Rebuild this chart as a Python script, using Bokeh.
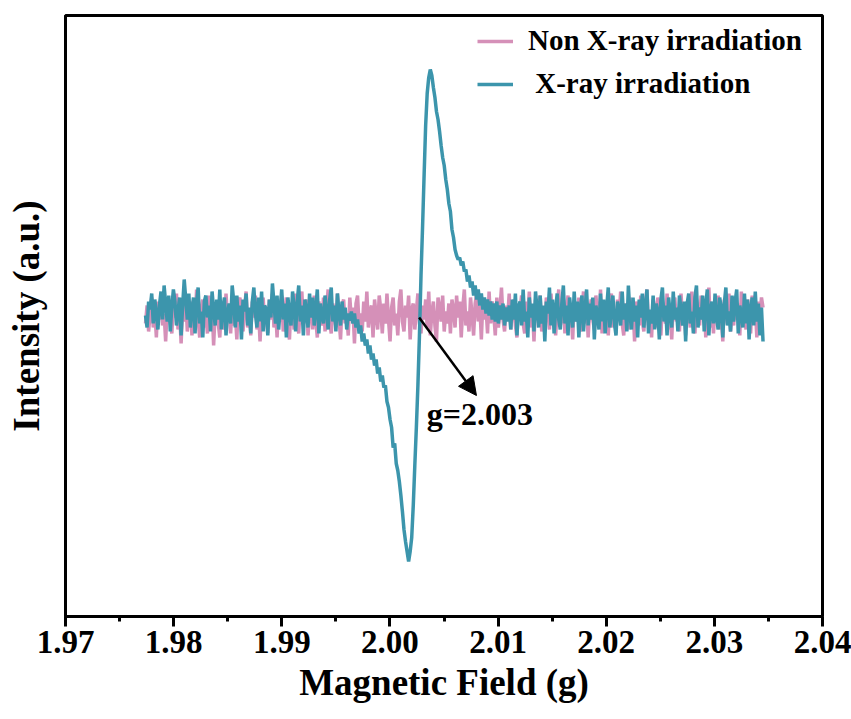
import numpy as np
from bokeh.plotting import figure
from bokeh.models import (Range1d, FixedTicker, Arrow, NormalHead, Legend,
                          LegendItem, Label)
from bokeh.embed import file_html
from bokeh.resources import INLINE

# ---------------- data ----------------
field_start = 1.9774
field_end = 2.0345

x_ticks = [1.97, 1.98, 1.99, 2.00, 2.01, 2.02, 2.03, 2.04]
x_tick_labels = ["1.97", "1.98", "1.99", "2.00", "2.01", "2.02", "2.03", "2.04"]
x_minor_ticks = [1.975, 1.985, 1.995, 2.005, 2.015, 2.025, 2.035]

# Non X-ray irradiation (a.u.), 400 points
non_xray = [
    -8, 10, -16, 4, 18, -12, 6, -22, 14, -4, 20, -10, 2, -26, 8, 16, -6, -18, 12, -2,
    22, -14, 4, -28, 10, -6, 18, -16, 0, 14, -20, 6, -10, 26, -4, -22, 8, 16, -12, 2,
    -18, 20, -6, 10, -30, 4, 14, -8, -22, 12, 0, -14, 22, -4, 8, -18, 16, -10, 2, -24,
    12, 18, -6, -16, 8, 24, -12, 4, -20, 14, -2, 20, -14, 6, -26, 10, 18, -8, 2, -18,
    16, -4, 22, -12, 8, -22, 14, -6, 20, -16, 4, 18, -10, -24, 12, 6, -14, 22, -2, -18,
    10, 24, -8, 0, 16, -20, 6, 12, -14, 20, -4, -22, 14, 2, -10, 18, -16, 8, 26, -6,
    -18, 12, 4, -12, 22, -2, -24, 10, 16, -8, 0, -20, 18, -4, 8, -28, 12, 20, -10, 2,
    -16, 14, -6, 24, -12, 4, 10, -22, 16, 0, -14, 20, 6, -18, 12, -8, 22, -4, -26, 8,
    18, -10, 2, -20, 14, 26, -6, -16, 10, -2, 20, -24, 6, 12, -14, 4, 22, -8, -18, 10,
    -4, 16, -12, 24, -20, 2, 14, -10, -26, 18, 8, -6, 20, -16, 4, -8, 12, -18, 16, 6,
    -12, 20, -2, 14, -22, 8, 26, -10, 4, -16, 18, 0, -20, 12, 22, -6, 10, -24, 16, -4,
    8, -18, 24, -8, 14, 2, -20, 18, -12, 6, 28, -4, -16, 10, -2, 22, -14, 4, 16, -10,
    -22, 12, 6, 20, -8, -18, 14, 0, 24, -12, 8, -26, 16, -4, 10, 20, -16, 2, -10, 18,
    4, -14, 22, -6, 12, -20, 8, 26, -10, -2, 16, -18, 6, 20, -12, 2, -24, 14, 10, -6,
    18, -16, 4, 24, -8, 12, -22, 6, 16, -4, -14, 20, 2, -10, 26, -18, 8, -6, 14, -20,
    10, 22, -12, 4, -18, 16, -2, 24, -8, -20, 12, 6, -14, 18, -4, 10, -26, 14, 2, -10,
    20, -6, -16, 12, 26, -10, 4, -22, 16, 8, -12, 18, -2, -20, 14, 6, -8, 22, -14, 0,
    -24, 12, 18, -6, 8, -16, 22, -2, 10, -20, 14, 4, -12, 24, -8, -18, 16, 2, -10, 20,
    -4, 14, -22, 6, 28, -12, 8, -18, 12, -6, 20, -14, 2, -26, 16, 10, -8, 22, -16, 4,
    -10, 18, -4, 12, -20, 24, -8, 6, -14, 16, 2, -18, 20, -6, 10, -22, 14, -2, 18, 8,
]

# X-ray irradiation (a.u.), 400 points
xray = [
    # baseline before the signal
    0, -12, 14, 6, 22, -8, 16, 2, -14, 10, 24, -4,
    30, 12, -6, 20, -16, 8, 26, 14, -10, 4, 18, -20,
    10, 36, 16, -4, 22, -12, 6, 18, -18, 12, 28, -8,
    4, -22, 14, 20, -2, 10, -16, 24, 6, -10, 16, -4,
    26, -14, 8, 18, -20, 2, 12, -8, 30, 14, -12, 20,
    -6, 10, -24, 16, 4, 22, -10, 8, -18, 14, 28, 2,
    -12, 18, -6, 24, -16, 10, 6, -20, 16, -2, 32, 12,
    -8, 20, -14, 6, 26, -4, 12, -22, 18, 2, -10, 24,
    8, -16, 14, 30, -6, 10, -20, 16, 4, -12, 22, -2,
    18, -10, 6, 26, -18, 12, 0, -8, 20, 4, -14, 16,
    28, -6, 10, -16, 22, 2, -10, 14, -4, 8, -14, 2,
    # signal
    -5, 4, -8, 2, -12, -4, -18, -10, -26, -18, -30, -24,
    -38, -30, -44, -38, -50, -44, -58, -52, -66, -60, -72, -70,
    -86, -92, -104, -112, -132, -128, -148, -155, -166, -180, -196, -214,
    -226, -236, -246, -236, -222, -190, -150, -112, -70, -20, 40, 88,
    140, 190, 222, 238, 246, 240, 228, 218, 204, 196, 184, 170,
    158, 150, 136, 126, 112, 104, 86, 78, 66, 60, 56, 58,
    50, 54, 44, 46, 34, 40, 28, 34, 20, 30, 16, 26,
    10, 22, 6, 18, 2, 16, 0, 14, -4, 12, -6, 14,
    -8, 10, -4, 12, -10, 8, -6, 10,
    # baseline after the signal
    -14, 16, -4, 22, -20, 8, 14, -10, 26, -6, 4, -22,
    18, -2, 12, -16, 24, 6, -12, 20, -8, 10, -26, 14,
    2, 28, -10, 16, -18, 6, 22, -4, -14, 12, 30, -8,
    10, -20, 18, 4, -12, 24, -6, 14, -22, 8, 20, -16,
    6, 26, -10, 12, -4, 18, -24, 10, 2, -14, 22, -6,
    16, -18, 8, 28, -12, 4, 20, -8, -20, 14, 6, -10,
    24, -4, 12, -16, 30, 2, -14, 18, -6, 10, -22, 16,
    -2, 22, -12, 8, 26, -18, 6, -8, 20, -14, 12, 4,
    -24, 16, 28, -6, 10, -20, 18, 2, -12, 24, -4, 8,
    -16, 20, 6, -10, 14, -26, 12, 22, -8, 4, -18, 18,
    30, -12, 8, -4, 20, -16, 10, 26, -20, 6, 14, -8,
    22, -2, -14, 18, 8, -22, 12, 28, -10, 4, -16, 20,
    -6, 14, 26, -18, 10, 2, -12, 22, -8, 16, -24, 6,
    18, -10, 24, -6, 12, -20, 8, -26,
]

g_value_label = "g=2.003"

x_non = np.linspace(field_start, field_end, len(non_xray))
x_xr = np.linspace(field_start, field_end, len(xray))

# ---------------- figure ----------------
FONT = "Liberation Serif"
PINK = "#D590B8"
TEAL = "#3C95AC"

p = figure(width=851, height=719, output_backend="svg", toolbar_location=None,
           x_range=Range1d(1.97, 2.04), y_range=Range1d(-301, 300),
           min_border_left=65, min_border_right=29, min_border_top=15,
           min_border_bottom=103, background_fill_color="white",
           border_fill_color="white")
p.xgrid.visible = False
p.ygrid.visible = False
p.outline_line_color = "black"
p.outline_line_width = 3
p.outline_line_alpha = 1

r1 = p.line(x_non, non_xray, line_color=PINK, line_width=3.5)
r2 = p.line(x_xr, xray, line_color=TEAL, line_width=3.5)

# x axis
xa = p.xaxis[0]
xa.ticker = FixedTicker(ticks=x_ticks, minor_ticks=x_minor_ticks)
xa.major_label_overrides = {t: l for t, l in zip(x_ticks, x_tick_labels)}
xa.axis_line_width = 3
xa.major_tick_line_width = 3
xa.minor_tick_line_width = 3
xa.major_tick_out = 10
xa.major_tick_in = 0
xa.minor_tick_out = 5
xa.minor_tick_in = 0
xa.major_label_text_font = FONT
xa.major_label_text_font_style = "bold"
xa.major_label_text_font_size = "33px"
xa.major_label_text_color = "black"
xa.major_label_standoff = 4
xa.axis_label = "Magnetic Field (g)"
xa.axis_label_text_font = FONT
xa.axis_label_text_font_style = "bold"
xa.axis_label_text_font_size = "37px"
xa.axis_label_text_color = "black"
xa.axis_label_standoff = 6

# y axis (no ticks)
ya = p.yaxis[0]
ya.ticker = FixedTicker(ticks=[])
ya.major_label_text_font_size = "0px"
ya.major_tick_line_color = None
ya.minor_tick_line_color = None
ya.axis_line_width = 3
ya.axis_label = "Intensity (a.u.)"
ya.axis_label_text_font = FONT
ya.axis_label_text_font_style = "bold"
ya.axis_label_text_font_size = "37px"
ya.axis_label_text_color = "black"
ya.axis_label_standoff = 19

# legend
legend = Legend(items=[LegendItem(label="Non X-ray irradiation", renderers=[r1]),
                       LegendItem(label=" X-ray irradiation", renderers=[r2])],
                location=(412, 516))
legend.border_line_color = None
legend.background_fill_alpha = 0
legend.glyph_width = 36
legend.glyph_height = 30
legend.label_standoff = 15
legend.spacing = 10
legend.padding = 0
legend.margin = 0
legend.label_text_font = FONT
legend.label_text_font_style = "bold"
legend.label_text_font_size = "29px"
legend.label_text_color = "black"
p.add_layout(legend)

# annotation
p.add_layout(Arrow(end=NormalHead(size=18, fill_color="black", line_color="black"),
                   x_start=2.0027, y_start=-2, x_end=2.0080, y_end=-80,
                   line_color="black", line_width=2.5))
p.add_layout(Label(x=2.0034, y=-98, text=g_value_label, text_font=FONT,
                   text_font_style="bold", text_font_size="32px",
                   text_baseline="middle", text_align="left", text_color="black"))

open("out.html", "w").write(file_html(p, INLINE))
